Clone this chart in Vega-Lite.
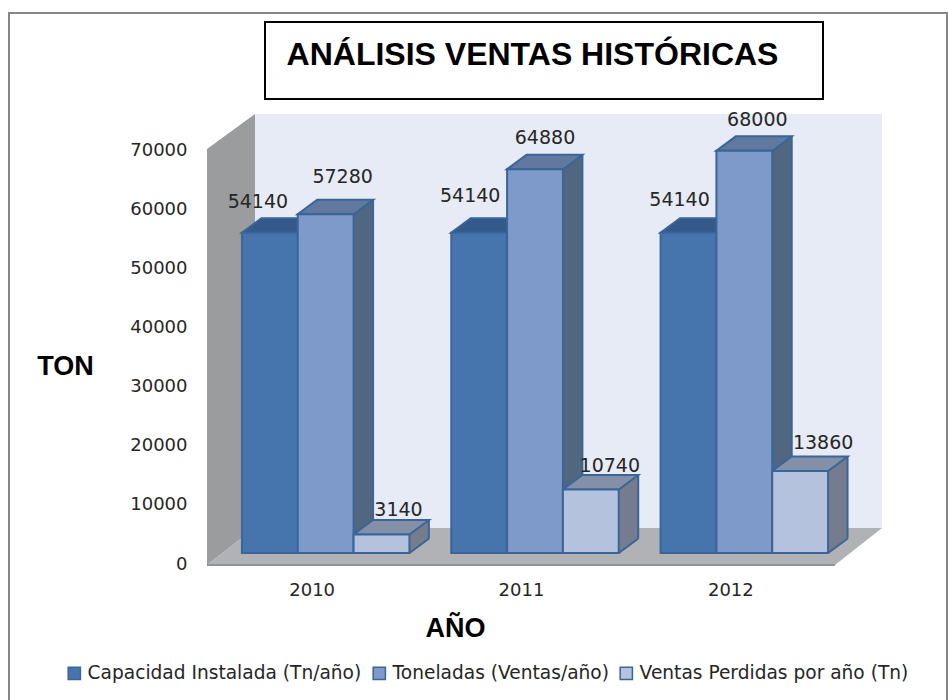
{
"$schema":"https://vega.github.io/schema/vega-lite/v6.json",
"width":628,"height":414,"autosize":"none",
"padding":{"left":207,"top":150,"right":113,"bottom":136},
"background":"white",
"config":{"view":{"stroke":null},"text":{"font":"DejaVu Sans"}},
"data":{"values":[
{"year":"2010","serie":"Capacidad Instalada (Tn/año)","ton":54140},
{"year":"2010","serie":"Toneladas (Ventas/año)","ton":57280},
{"year":"2010","serie":"Ventas Perdidas por año (Tn)","ton":3140},
{"year":"2011","serie":"Capacidad Instalada (Tn/año)","ton":54140},
{"year":"2011","serie":"Toneladas (Ventas/año)","ton":64880},
{"year":"2011","serie":"Ventas Perdidas por año (Tn)","ton":10740},
{"year":"2012","serie":"Capacidad Instalada (Tn/año)","ton":54140},
{"year":"2012","serie":"Toneladas (Ventas/año)","ton":68000},
{"year":"2012","serie":"Ventas Perdidas por año (Tn)","ton":13860}
]},
"encoding":{
"x":{"field":"year","type":"nominal","scale":{"domain":["2010","2011","2012"],"paddingInner":0.2,"paddingOuter":0.1},"axis":null},
"y":{"field":"ton","type":"quantitative","scale":{"domain":[0,70000],"nice":false},
 "axis":{"title":"TON","titleAngle":0,"ticks":false,"domain":false,"grid":false,"values":[0,10000,20000,30000,40000,50000,60000,70000],"format":"d","labelPadding":20,"labelFont":"DejaVu Sans","labelFontSize":18,"labelColor":"#262626","titleFont":"Liberation Sans","titleFontSize":27,"titleFontWeight":"bold","titleColor":"black","titleX":-142,"titleY":216,"titleAlign":"center","titleBaseline":"middle"}},
"xOffset":{"field":"serie","type":"nominal","scale":{"domain":["Capacidad Instalada (Tn/año)","Toneladas (Ventas/año)","Ventas Perdidas por año (Tn)"]}}
},
"resolve":{"scale":{"color":"independent","x":"independent","xOffset":"independent"}},
"layer":[
{"data":{"values":[{"year":"2010","ton":0}]},"encoding":{"xOffset":null,"x":{"field":"year","type":"nominal","scale":{"domain":["2010","2011","2012"],"paddingInner":0.2,"paddingOuter":0.1},
 "axis":{"title":"AÑO","labelAngle":0,"ticks":false,"domain":false,"labelPadding":17,"labelFont":"DejaVu Sans","labelFontSize":18,"labelColor":"#262626","titleFont":"Liberation Sans","titleFontSize":27,"titleFontWeight":"bold","titleColor":"black","titleX":248,"titleY":64,"titleBaseline":"middle"}}},"mark":{"type":"point","filled":true,"opacity":1,"size":40000,"fill":"#E7EBF5","stroke":null,"shape":"M-.5667,-4.5 L5.7033,-4.5 L5.7033,-.36 L-.5667,-.36 Z"}},
{"data":{"values":[{"year":"2010","ton":0}]},"encoding":{"xOffset":null},"mark":{"type":"point","filled":true,"opacity":1,"size":40000,"fill":"#9B9C9E","stroke":null,"shape":"M-1.0467,-4.15 L-.5667,-4.5 L-.5667,-.36 L-1.0467,.01 Z"}},
{"data":{"values":[{"year":"2010","ton":0}]},"encoding":{"xOffset":null},"mark":{"type":"point","filled":true,"opacity":1,"size":40000,"fill":"#B0B2B5","stroke":null,"shape":"M-1.0467,.01 L-.5667,-.36 L5.7033,-.36 L5.2333,.01 Z"}},
{"data":{"values":[{"year":"2010","ton":0}]},"encoding":{"xOffset":null},"mark":{"type":"point","filled":false,"opacity":1,"size":40000,"stroke":"#919395","strokeWidth":2,"shape":"M-1.0467,.01 L5.2333,.01"}},
{"data":{"values":[{"year":"2010","ton":0}]},"encoding":{"xOffset":null},"mark":{"type":"point","filled":false,"opacity":1,"size":40000,"stroke":"#868686","strokeWidth":2,"shape":"M-3.0267,1.36 L-3.0267,-5.51 L6.3533,-5.51 L6.3533,1.36"}},
{"data":{"values":[{"year":"2010","ton":0}]},"encoding":{"xOffset":null},"mark":{"type":"point","filled":true,"opacity":1,"size":40000,"fill":"white","stroke":"black","strokeWidth":2,"shape":"M-.4667,-5.42 L5.1133,-5.42 L5.1133,-4.65 L-.4667,-4.65 Z"}},
{"data":{"values":[{"year":"2011","ton":0,"titulo":"ANÁLISIS VENTAS HISTÓRICAS"}]},"encoding":{"xOffset":null,"text":{"field":"titulo"}},"mark":{"type":"text","font":"Liberation Sans","fontWeight":"bold","fontSize":32,"color":"black","align":"center","baseline":"middle","dx":11.5,"dy":-509}},
{"mark":{"type":"bar","yOffset":-25.5},"encoding":{"x":{"field":"year","type":"nominal","axis":null,"scale":{"domain":["2010","2011","2012"],"paddingInner":0.2,"paddingOuter":0.1,"range":[33.5,661.5]}},"color":{"field":"serie","legend":null,"scale":{"domain":["Capacidad Instalada (Tn/año)","Toneladas (Ventas/año)","Ventas Perdidas por año (Tn)"],"range":["#36597F","#51667F","#757C8E"]}}}},
{"mark":{"type":"rule","stroke":"#3A6599","strokeWidth":2,"yOffset":-25.5,"y2Offset":-25.5},"encoding":{"x":{"field":"year","type":"nominal","axis":null,"scale":{"domain":["2010","2011","2012"],"paddingInner":0.2,"paddingOuter":0.1,"range":[61.4,689.4]}},"y2":{"datum":0}}},
{"mark":{"type":"point","filled":true,"opacity":1,"size":40000,"stroke":null,"shape":"M.42,-.11 L.42,-.26 L.615,-.26 Z"},"encoding":{"y":{"datum":0},"color":{"field":"serie","legend":null,"scale":{"domain":["Capacidad Instalada (Tn/año)","Toneladas (Ventas/año)","Ventas Perdidas por año (Tn)"],"range":["#36597F","#51667F","#757C8E"]}}}},
{"mark":{"type":"point","filled":false,"opacity":1,"size":40000,"stroke":"#3A6599","strokeWidth":2,"shape":"M.42,-.11 L.615,-.255"},"encoding":{"y":{"datum":0}}},
{"mark":{"type":"point","filled":true,"opacity":1,"size":40000,"stroke":"#3A6599","strokeWidth":2,"shape":"M-.14,-.11 L.42,-.11 L.615,-.255 L.055,-.255 Z"},"encoding":{"color":{"field":"serie","legend":null,"scale":{"domain":["Capacidad Instalada (Tn/año)","Toneladas (Ventas/año)","Ventas Perdidas por año (Tn)"],"range":["#35598A","#62799F","#8390A7"]}}}},
{"mark":{"type":"bar","yOffset":-11,"y2Offset":-11,"stroke":"#3A6599","strokeWidth":2},"encoding":{"x":{"field":"year","type":"nominal","axis":null,"scale":{"domain":["2010","2011","2012"],"paddingInner":0.2,"paddingOuter":0.1,"range":[14,642]}},"color":{"field":"serie","scale":{"domain":["Capacidad Instalada (Tn/año)","Toneladas (Ventas/año)","Ventas Perdidas por año (Tn)"],"range":["#4675AE","#7E9ACA","#B5C2DE"]},
 "legend":{"title":null,"orient":"none","legendX":-142,"legendY":514,"direction":"horizontal","columns":3,"symbolType":"square","symbolSize":150,"symbolStrokeColor":"#3A6599","symbolStrokeWidth":1.5,"labelFont":"DejaVu Sans","labelFontSize":18.6,"labelColor":"#262626","labelLimit":500,"columnPadding":8,"labelOffset":4}}}},
{"transform":[{"filter":"datum.year=='2010'&&datum.ton==54140"}],"mark":{"type":"text","fontSize":19,"color":"#262626","dx":2,"dy":-42},"encoding":{"text":{"field":"ton","format":"d"}}},
{"transform":[{"filter":"datum.year=='2010'&&datum.ton==57280"}],"mark":{"type":"text","fontSize":19,"color":"#262626","dx":31,"dy":-48},"encoding":{"text":{"field":"ton","format":"d"}}},
{"transform":[{"filter":"datum.year=='2010'&&datum.ton==3140"}],"mark":{"type":"text","fontSize":19,"color":"#262626","dx":31,"dy":-35},"encoding":{"text":{"field":"ton","format":"d"}}},
{"transform":[{"filter":"datum.year=='2011'&&datum.ton==54140"}],"mark":{"type":"text","fontSize":19,"color":"#262626","dx":5,"dy":-48},"encoding":{"text":{"field":"ton","format":"d"}}},
{"transform":[{"filter":"datum.year=='2011'&&datum.ton==64880"}],"mark":{"type":"text","fontSize":19,"color":"#262626","dx":24,"dy":-42},"encoding":{"text":{"field":"ton","format":"d"}}},
{"transform":[{"filter":"datum.year=='2011'&&datum.ton==10740"}],"mark":{"type":"text","fontSize":19,"color":"#262626","dx":33,"dy":-34},"encoding":{"text":{"field":"ton","format":"d"}}},
{"transform":[{"filter":"datum.year=='2012'&&datum.ton==54140"}],"mark":{"type":"text","fontSize":19,"color":"#262626","dx":5,"dy":-44},"encoding":{"text":{"field":"ton","format":"d"}}},
{"transform":[{"filter":"datum.year=='2012'&&datum.ton==68000"}],"mark":{"type":"text","fontSize":19,"color":"#262626","dx":27,"dy":-42},"encoding":{"text":{"field":"ton","format":"d"}}},
{"transform":[{"filter":"datum.year=='2012'&&datum.ton==13860"}],"mark":{"type":"text","fontSize":19,"color":"#262626","dx":37,"dy":-39},"encoding":{"text":{"field":"ton","format":"d"}}}
]
}
